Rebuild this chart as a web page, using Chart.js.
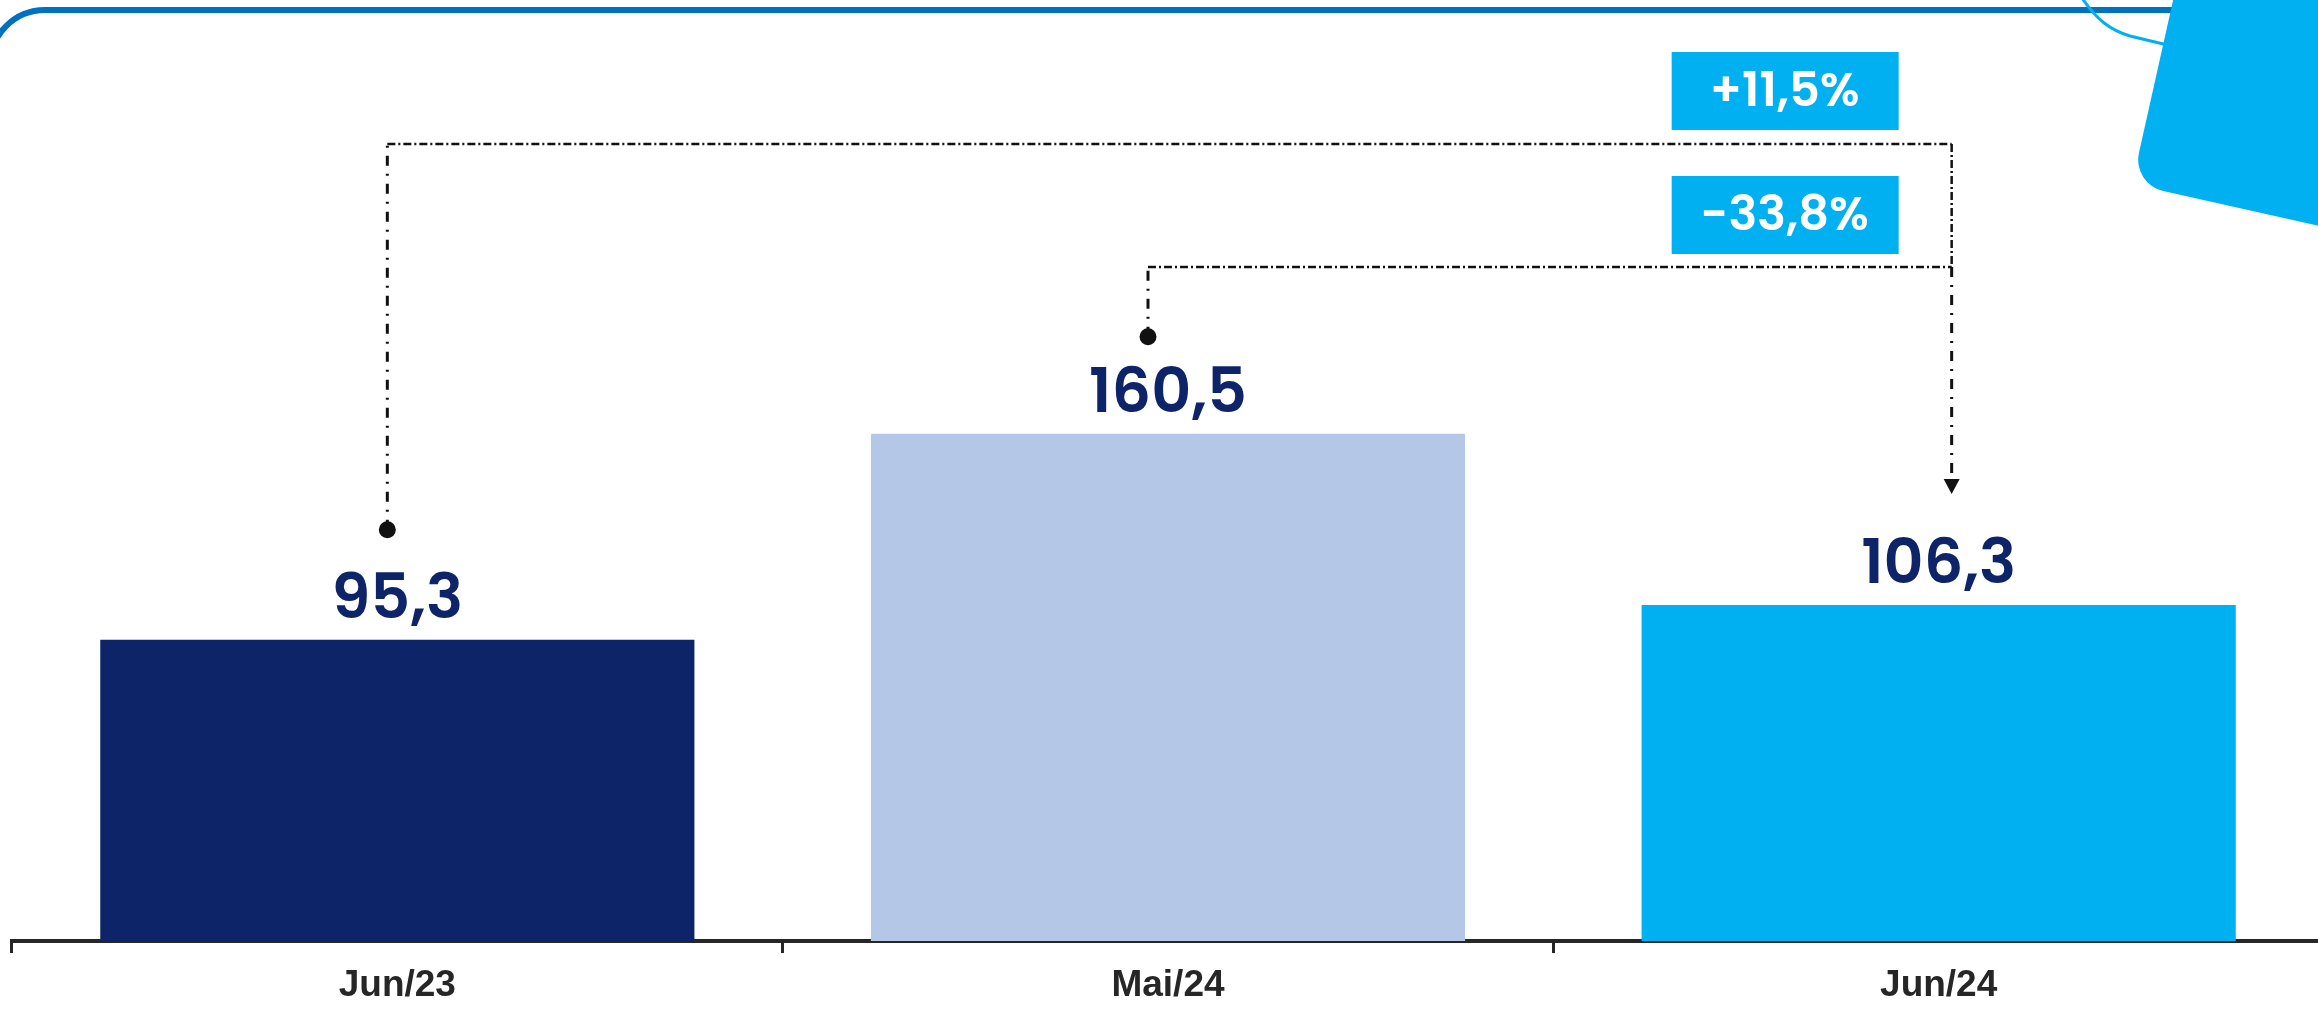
<!DOCTYPE html>
<html>
<head>
<meta charset="utf-8">
<script src="https://cdn.jsdelivr.net/npm/chart.js@4.4.1/dist/chart.umd.min.js"></script>
<style>
    html, body { margin: 0; padding: 0; background: #ffffff; overflow: hidden; }
    #wrap { width: 2318px; height: 1013px; overflow: hidden; }
</style>
</head>
<body>
<div id="wrap"><canvas id="chart" width="2324" height="1013"></canvas></div>
<script>
// ---------------------------------------------------------------------------
// Data
// ---------------------------------------------------------------------------

const categories = ['Jun/23', 'Mai/24', 'Jun/24'];
const values = [95.3, 160.5, 106.3];
const valueLabels = ['95,3', '160,5', '106,3'];
const barColors = ['#0E2469', '#B4C7E7', '#00B0F0'];
const changeLabels = ['+11,5%', '-33,8%'];

const navy = '#0E2469';
const cyan = '#00B0F0';

// ---------------------------------------------------------------------------
// Plugins
// ---------------------------------------------------------------------------

// frame line and corner shape behind the chart
const decorations = {
    id: 'decorations',
    beforeDraw(chart) {
        const ctx = chart.ctx;
        ctx.save();
        ctx.strokeStyle = '#0070C0';
        ctx.lineWidth = 6;
        ctx.beginPath();
        ctx.moveTo(-10, 110);
        ctx.arcTo(-10, 10, 45, 10, 55);
        ctx.lineTo(2220, 10);
        ctx.stroke();

        ctx.strokeStyle = cyan;
        ctx.lineWidth = 3;
        ctx.beginPath();
        ctx.moveTo(2082, -2);
        ctx.bezierCurveTo(2097, 20, 2110, 30, 2130, 36);
        ctx.lineTo(2180, 48);
        ctx.stroke();

        ctx.translate(2132, 184);
        ctx.rotate(12.6 * Math.PI / 180);
        ctx.fillStyle = cyan;
        ctx.beginPath();
        ctx.roundRect(0, -420, 420, 420, 32);
        ctx.fill();
        ctx.restore();
    }
};

// value labels above the bars
const barValues = {
    id: 'barValues',
    afterDatasetsDraw(chart) {
        const ctx = chart.ctx;
        const meta = chart.getDatasetMeta(0);
        ctx.save();
        ctx.fillStyle = navy;
        ctx.font = '600 62px Poppins, Lato, sans-serif';
        ctx.textAlign = 'center';
        ctx.textBaseline = 'alphabetic';
        meta.data.forEach((bar, i) => {
            ctx.fillText(valueLabels[i], bar.x, bar.y - 22);
        });
        ctx.restore();
    }
};

function dashLine(ctx, from, to, dash) {
    ctx.setLineDash(dash);
    ctx.beginPath();
    ctx.moveTo(from[0], from[1]);
    ctx.lineTo(to[0], to[1]);
    ctx.stroke();
}

// connectors with the change boxes
const changes = {
    id: 'changes',
    afterDraw(chart) {
        const ctx = chart.ctx;
        const bars = chart.getDatasetMeta(0).data;
        const longDash = [10, 8, 2, 8];
        const shortDash = [8, 3, 2, 3];
        const endX = bars[2].x + 13;
        const tipY = bars[2].y - 111;
        const levels = [144, 267];
        const starts = [
            [bars[0].x - 10, bars[0].y - 110],
            [bars[1].x - 20, bars[1].y - 97]
        ];

        ctx.save();
        ctx.strokeStyle = '#111111';
        ctx.fillStyle = '#111111';
        starts.forEach((s, i) => {
            ctx.lineWidth = 3;
            dashLine(ctx, [s[0], s[1]], [s[0], levels[i]], longDash);
            ctx.lineWidth = 2.5;
            dashLine(ctx, [s[0], levels[i]], [endX, levels[i]], shortDash);
            ctx.setLineDash([]);
            ctx.beginPath();
            ctx.arc(s[0], s[1], 8.5, 0, Math.PI * 2);
            ctx.fill();
        });
        ctx.lineWidth = 2.5;
        dashLine(ctx, [endX, levels[0]], [endX, levels[1]], shortDash);
        ctx.lineWidth = 3;
        dashLine(ctx, [endX, levels[1]], [endX, tipY - 14], longDash);
        ctx.setLineDash([]);
        ctx.beginPath();
        ctx.moveTo(endX - 8, tipY - 15);
        ctx.lineTo(endX + 8, tipY - 15);
        ctx.lineTo(endX, tipY);
        ctx.closePath();
        ctx.fill();

        // boxes
        const boxCx = endX - 167;
        const boxCy = [91, 215];
        ctx.font = '600 48px Poppins, Lato, sans-serif';
        ctx.textAlign = 'center';
        ctx.textBaseline = 'middle';
        changeLabels.forEach((t, i) => {
            ctx.fillStyle = cyan;
            ctx.fillRect(boxCx - 113, boxCy[i] - 39, 227, 78);
            ctx.fillStyle = '#ffffff';
            ctx.fillText(t, boxCx, boxCy[i] + 3);
        });
        ctx.restore();
    }
};

// ---------------------------------------------------------------------------
// Chart
// ---------------------------------------------------------------------------

new Chart(document.getElementById('chart'), {
    type: 'bar',
    data: {
        labels: categories,
        datasets: [{
            data: values,
            backgroundColor: barColors,
            borderWidth: 0,
            categoryPercentage: 1,
            barPercentage: 0.771
        }]
    },
    options: {
        responsive: false,
        devicePixelRatio: 1,
        animation: false,
        layout: { padding: { top: 151, left: 12, right: 0, bottom: 0 } },
        plugins: { legend: { display: false }, tooltip: { enabled: false } },
        scales: {
            y: { display: false, min: 0, max: 250 },
            x: {
                afterFit(scale) { scale.height = 72; },
                grid: {
                    offset: true,
                    drawOnChartArea: false,
                    drawTicks: true,
                    tickLength: 12,
                    color: '#262626',
                    lineWidth: 3
                },
                border: { display: true, color: '#262626', width: 4 },
                ticks: {
                    color: '#262626',
                    padding: 11,
                    font: { family: 'Liberation Sans, Arial, sans-serif', size: 37, weight: 'bold' }
                }
            }
        }
    },
    plugins: [decorations, barValues, changes]
});
</script>
</body>
</html>
